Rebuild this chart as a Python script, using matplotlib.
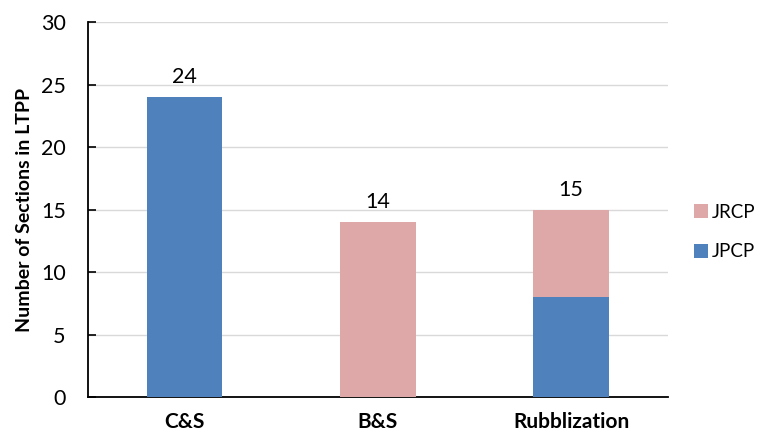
import matplotlib.pyplot as plt
import numpy as np

plt.rcParams['font.family'] = ['Lato', 'DejaVu Sans']

categories = ['C&S', 'B&S', 'Rubblization']
jpcp = [24, 0, 8]
jrcp = [0, 14, 7]
totals = [24, 14, 15]

fig = plt.figure(figsize=(7.67, 4.38), dpi=100)
ax = fig.add_axes([0.1147, 0.0936, 0.756, 0.856])

x = np.arange(len(categories))
w = 0.39
b1 = ax.bar(x, jpcp, w, color='#4F81BD', label='JPCP', zorder=3)
b2 = ax.bar(x, jrcp, w, bottom=jpcp, color='#DDA8A7', label='JRCP', zorder=3)

for xi, t in zip(x, totals):
    ax.text(xi, t + 0.8, str(t), ha='center', va='bottom', fontsize=15.5)

ax.set_xlim(-0.5, 2.5)
ax.set_ylim(0, 30)
ax.set_yticks(range(0, 31, 5))
ax.set_xticks(x)
ax.set_xticklabels(categories, fontsize=15, fontweight='bold')
ax.tick_params(axis='y', labelsize=15.5, direction='in', length=6, width=1.2, pad=16)
ax.tick_params(axis='x', length=0, pad=11)
ax.grid(axis='y', color='#D9D9D9', linewidth=1, zorder=0)
ax.set_ylabel('Number of Sections in LTPP', fontsize=14, fontweight='bold', labelpad=6)

for s in ['top', 'right']:
    ax.spines[s].set_visible(False)
ax.spines['left'].set_linewidth(1.3)
ax.spines['bottom'].set_linewidth(1.3)

handles, labels = ax.get_legend_handles_labels()
fig.legend(handles[::-1], labels[::-1], loc='center left', bbox_to_anchor=(0.9, 0.47),
           frameon=False, fontsize=13.5, handlelength=0.75, handleheight=0.75,
           handletextpad=0.2, labelspacing=1.2, borderpad=0.2, borderaxespad=0)

fig.savefig('out.png', dpi=100)
